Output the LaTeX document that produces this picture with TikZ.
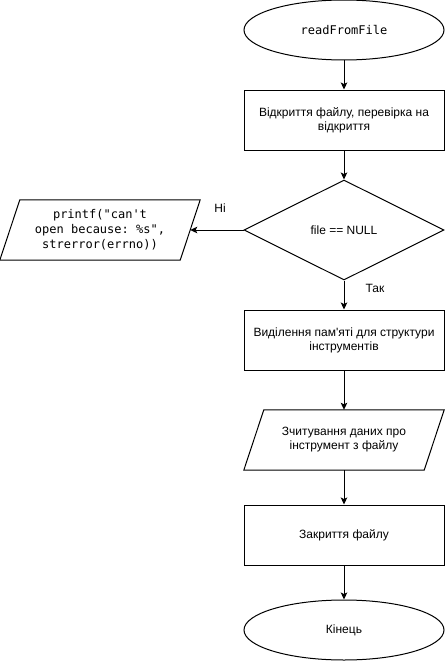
\documentclass[tikz,border=0pt]{standalone}
\usepackage{fontspec}
\setmainfont{Liberation Sans}
\setmonofont{DejaVu Sans Mono}
\usetikzlibrary{shapes.geometric,arrows.meta,calc}
\begin{document}
\begin{tikzpicture}[x=1pt,y=-1pt,
  every node/.style={font=\fontsize{12}{14}\selectfont},
  mono/.style={font=\ttfamily\fontsize{12}{15}\selectfont},
  base/.style={draw, line width=1pt, align=center, inner sep=0pt},
  term/.style={base, ellipse, minimum width=200pt, minimum height=60pt},
  proc/.style={base, rectangle, minimum width=200pt, minimum height=60pt},
  dec/.style={base, diamond, minimum width=200pt, minimum height=100pt, aspect=2},
  iobox/.style={align=center, inner sep=0pt, minimum width=180pt, minimum height=60pt},
  para/.style={line width=1pt},
  conn/.style={line width=1pt, -{Stealth[length=7pt,width=6.5pt,inset=1.5pt]}}
]
\useasboundingbox (0,0) rectangle (445,661);

\node[term, mono] (start) at (344,30) {readFromFile};
\node[proc] (open) at (344,120) {Відкриття файлу, перевірка на\\відкриття};
\node[dec] (check) at (344,230) {file == NULL};
\node[iobox, mono] (err) at (100,230) {printf("can't\\open because: \%s",\\strerror(errno))};
\draw[para] ($(err.north west)+(10,0)$) -- ($(err.north east)+(10,0)$) -- ($(err.south east)+(-10,0)$) -- ($(err.south west)+(-10,0)$) -- cycle;
\node[proc] (alloc) at (344,340) {Виділення пам\textquotesingle яті для структури\\інструментів};
\node[iobox] (read) at (344,440) {Зчитування даних про\\інструмент з файлу};
\draw[para] ($(read.north west)+(10,0)$) -- ($(read.north east)+(10,0)$) -- ($(read.south east)+(-10,0)$) -- ($(read.south west)+(-10,0)$) -- cycle;
\node[proc] (close) at (344,535) {Закриття файлу};
\node[term] (end) at (344,630) {Кінець};

\node (no) at (220,208) {Ні};
\node (yes) at (375,288) {Так};

\draw[conn] (start) -- (open);
\draw[conn] (open) -- (check);
\draw[conn] (check.west) -- (err.east);
\draw[conn] (check) -- (alloc);
\draw[conn] (alloc) -- (read);
\draw[conn] (read) -- (close);
\draw[conn] (close) -- (end);
\end{tikzpicture}
\end{document}
